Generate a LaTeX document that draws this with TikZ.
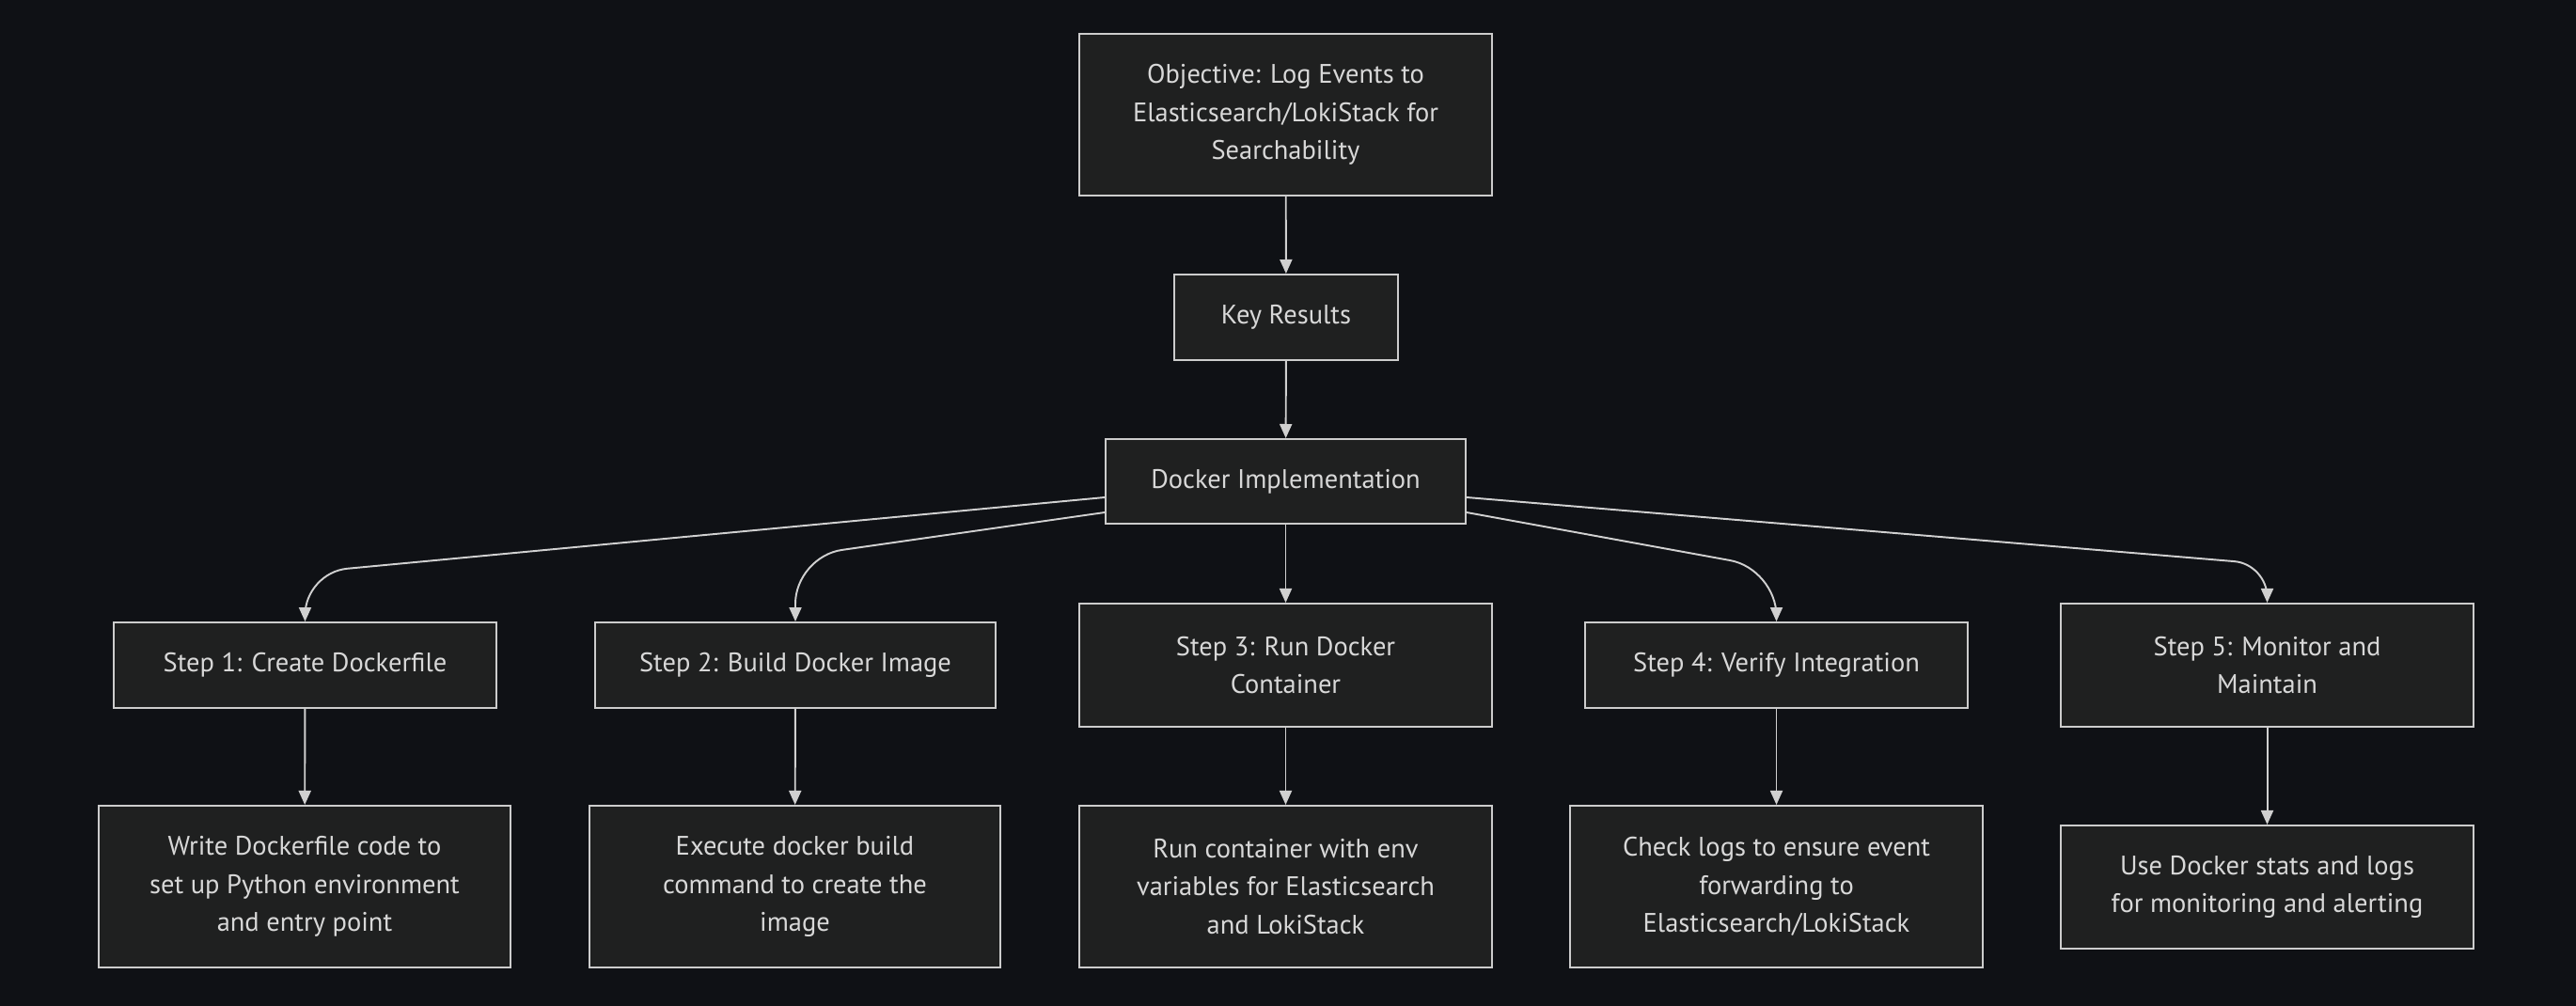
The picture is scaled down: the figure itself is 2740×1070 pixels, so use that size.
\documentclass[tikz,border=0pt]{standalone}
\usepackage{fontspec}
\setmainfont{PT Sans}
\usetikzlibrary{arrows.meta}
\definecolor{bgc}{HTML}{0F1115}
\definecolor{boxfill}{HTML}{1F2020}
\definecolor{boxline}{HTML}{CCCCCC}
\definecolor{txt}{HTML}{D8D8D8}
\definecolor{edge}{HTML}{D0D0D0}
\begin{document}
\begin{tikzpicture}[x=0.01cm,y=-0.01cm,
  box/.style={draw=boxline, fill=boxfill, line width=0.55pt, text=txt, align=center,
    inner sep=0pt, font=\fontsize{8.1}{11.5}\selectfont},
  conn/.style={draw=edge, line width=0.55pt, -{Triangle[length=0.15cm,width=0.13cm]}},
  bend/.style={conn, rounded corners=#1}]
\fill[bgc] (0,0) rectangle (2740,1070);
\useasboundingbox (0,0) rectangle (2740,1070);

\node[box, minimum width=4.39cm, minimum height=1.72cm] (obj) at (1367.5,122) {Objective: Log Events to\\Elasticsearch/LokiStack for\\Searchability};
\node[box, minimum width=2.38cm, minimum height=0.91cm] (kr) at (1368,337.5) {Key Results};
\node[box, minimum width=3.83cm, minimum height=0.90cm] (impl) at (1367.5,512) {Docker Implementation};

\node[box, minimum width=4.07cm, minimum height=0.91cm] (s1) at (324.5,707.5) {Step 1: Create Dockerfile};
\node[box, minimum width=4.26cm, minimum height=0.91cm] (s2) at (846,707.5) {Step 2: Build Docker Image};
\node[box, minimum width=4.39cm, minimum height=1.31cm] (s3) at (1367.5,707.5) {Step 3: Run Docker\\Container};
\node[box, minimum width=4.07cm, minimum height=0.91cm] (s4) at (1889.5,707.5) {Step 4: Verify Integration};
\node[box, minimum width=4.39cm, minimum height=1.31cm] (s5) at (2411.5,707.5) {Step 5: Monitor and\\Maintain};

\node[box, minimum width=4.38cm, minimum height=1.72cm] (b1) at (324,943) {Write Dockerfile code to\\set up Python environment\\and entry point};
\node[box, minimum width=4.37cm, minimum height=1.72cm] (b2) at (845.5,943) {Execute docker build\\command to create the\\image};
\node[box, minimum width=4.39cm, minimum height=1.72cm] (b3) at (1367.5,943) {Run container with env\\variables for Elasticsearch\\and LokiStack};
\node[box, minimum width=4.39cm, minimum height=1.72cm] (b4) at (1889.5,943) {Check logs to ensure event\\forwarding to\\Elasticsearch/LokiStack};
\node[box, minimum width=4.39cm, minimum height=1.31cm] (b5) at (2411.5,943.5) {Use Docker stats and logs\\for monitoring and alerting};

\draw[conn] (obj) -- (kr);
\draw[conn] (kr) -- (impl);
\draw[conn] (impl) -- (s3);

\coordinate (c1) at (324.5,609);
\coordinate (c2) at (846,592);
\coordinate (c4) at (1889.5,605);
\coordinate (c5) at (2411.5,600);
\draw[bend=0.45cm] ([yshift=-0.17cm]impl.west) -- (c1) -- (s1.north);
\draw[bend=0.5cm] ([yshift=-0.33cm]impl.west) -- (c2) -- (s2.north);
\draw[bend=0.5cm] ([yshift=-0.33cm]impl.east) -- (c4) -- (s4.north);
\draw[bend=0.35cm] ([yshift=-0.17cm]impl.east) -- (c5) -- (s5.north);

\draw[conn] (s1) -- (b1);
\draw[conn] (s2) -- (b2);
\draw[conn] (s3) -- (b3);
\draw[conn] (s4) -- (b4);
\draw[conn] (s5) -- (b5);
\end{tikzpicture}
\end{document}
